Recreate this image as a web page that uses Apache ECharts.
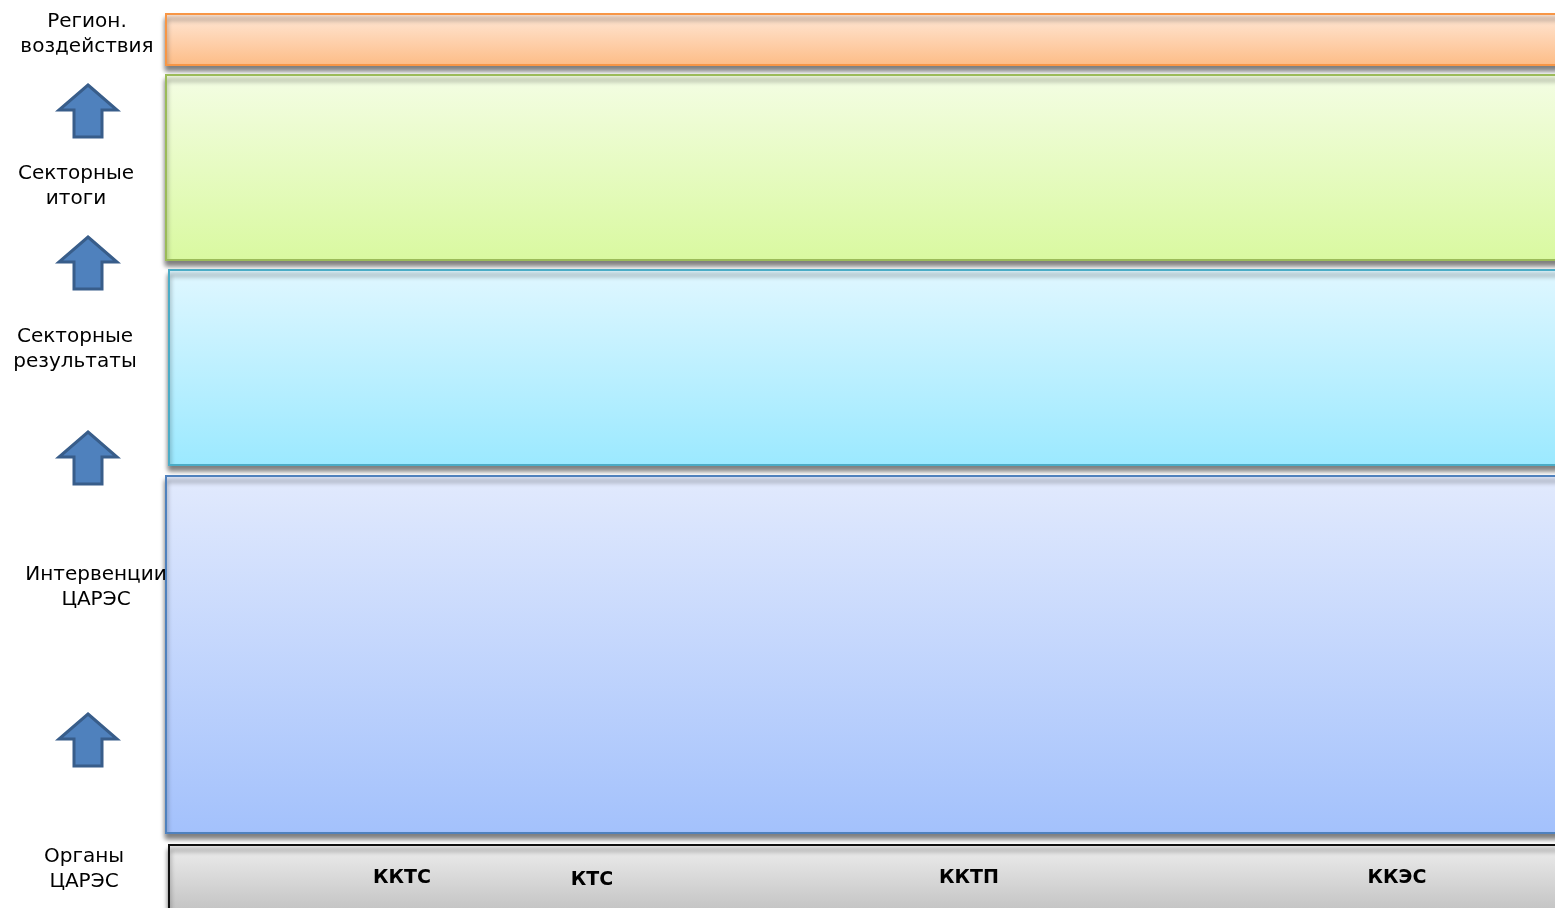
<!DOCTYPE html>
<html><head><meta charset="utf-8">
<script src="https://cdn.jsdelivr.net/npm/echarts@6/dist/echarts.min.js"></script>
<style>html,body{margin:0;padding:0;background:#fff}#c{width:1555px;height:908px}</style>
</head><body><div id="c"></div>
<script>
// Layers of the results chain (top to bottom)
const layerNames = ['Регион.\nвоздействия', 'Секторные\nитоги', 'Секторные\nрезультаты', 'Интервенции\nЦАРЭС', 'Органы\nЦАРЭС'];
// band extents on the vertical scale (0 = top, 908 = bottom)
const bandTop = [14, 75, 270, 476, 845];
const bandBottom = [65, 260, 465, 833, 920];
const bandLeft = [166, 166, 169, 166, 169];
// label anchor (first-line centre) on the scale
const labelX = [87, 76, 75, 96, 84];
const labelY = [22, 174, 337, 575, 857];
// arrows between layers (vertical centre)
const arrowY = [111, 263, 458, 740];
// bodies at the bottom
const bodies = ['ККТС', 'КТС', 'ККТП', 'ККЭС'];
const bodyX = [402, 592, 969, 1397];
const bodyY = [878, 880, 878, 878];

const fills = [
  ['#FFE8D8', '#FDBC86', '#F79646'],
  ['#F4FDE4', '#D9F9A0', '#9BBB59'],
  ['#E0F7FF', '#9BE9FF', '#4BACC6'],
  ['#E2EAFD', '#A3C1FC', '#4F81BD'],
  ['#EEEEEE', '#BDBDBD', '#111111']
];

const chart = echarts.init(document.getElementById('c'));
const font = '"DejaVu Sans", Verdana, sans-serif';

chart.setOption({
  animation: false,
  grid: { left: 0, right: 0, top: 0, bottom: 0 },
  xAxis: { type: 'value', min: 0, max: 1555, show: false },
  yAxis: { type: 'value', min: 0, max: 908, inverse: true, show: false },
  series: [
    {
      type: 'custom',
      coordinateSystem: 'cartesian2d',
      data: bandTop.map((t, i) => [bandLeft[i], t, bandBottom[i]]),
      clip: false,
      renderItem: function (params, api) {
        const i = params.dataIndex;
        const p0 = api.coord([api.value(0), api.value(1)]);
        const p1 = api.coord([1600, api.value(2)]);
        const f = fills[i];
        return {
          type: 'rect',
          shape: { x: p0[0], y: p0[1], width: p1[0] - p0[0], height: p1[1] - p0[1] },
          style: {
            fill: new echarts.graphic.LinearGradient(0, 0, 0, 1, [
              { offset: 0, color: f[0] }, { offset: 1, color: f[1] }
            ]),
            stroke: f[2], lineWidth: 2,
            shadowBlur: 5, shadowOffsetY: 5, shadowColor: 'rgba(0,0,0,0.5)'
          }
        };
      }
    },
    {
      type: 'custom',
      coordinateSystem: 'cartesian2d',
      data: arrowY.map(y => [88, y]),
      clip: false,
      renderItem: function (params, api) {
        const c = api.coord([api.value(0), api.value(1)]);
        const x = c[0], y = c[1];
        const hw = 29, sw = 14, top = y - 26, mid = y - 1, bot = y + 26;
        return {
          type: 'polygon',
          shape: { points: [[x, top], [x + hw, mid], [x + sw, mid], [x + sw, bot], [x - sw, bot], [x - sw, mid], [x - hw, mid]] },
          style: { fill: '#4F81BD', stroke: '#385D8A', lineWidth: 3, lineJoin: 'miter' }
        };
      }
    },
    {
      type: 'custom',
      coordinateSystem: 'cartesian2d',
      data: layerNames.map((n, i) => [labelX[i], labelY[i], n]),
      clip: false,
      renderItem: function (params, api) {
        const c = api.coord([api.value(0), api.value(1)]);
        return {
          type: 'text',
          x: c[0], y: c[1] - 12.5,
          style: {
            text: layerNames[params.dataIndex], fill: '#000', font: '20px ' + font,
            align: 'center', verticalAlign: 'top', lineHeight: 25
          }
        };
      }
    },
    {
      type: 'custom',
      coordinateSystem: 'cartesian2d',
      data: bodies.map((n, i) => [bodyX[i], bodyY[i]]),
      clip: false,
      renderItem: function (params, api) {
        const c = api.coord([api.value(0), api.value(1)]);
        return {
          type: 'text',
          x: c[0], y: c[1],
          style: {
            text: bodies[params.dataIndex], fill: '#000', font: 'bold 19px ' + font,
            align: 'center', verticalAlign: 'middle'
          }
        };
      }
    }
  ]
});
</script></body></html>
